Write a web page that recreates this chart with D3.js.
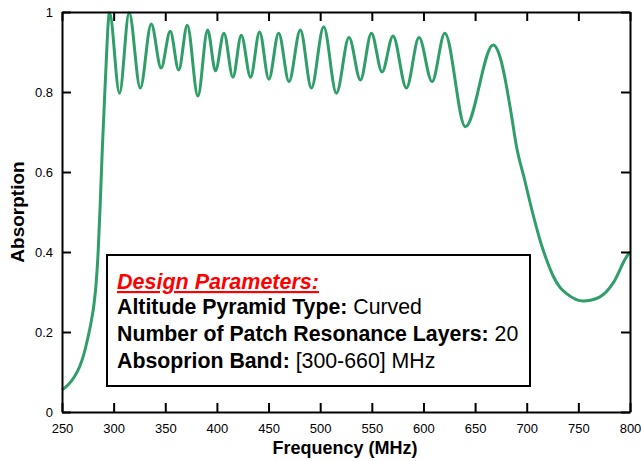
<!DOCTYPE html>
<html>
<head>
<meta charset="utf-8">
<script src="https://cdn.jsdelivr.net/npm/d3@7"></script>
<style>
  html, body { margin: 0; padding: 0; background: #fff; }
  svg { display: block; font-family: "Liberation Sans", Arial, Helvetica, sans-serif; }
</style>
</head>
<body>
<svg id="chart" width="641" height="461"></svg>
<script>
// ---- Data ----
const frequency = [250, 256, 262, 267, 271, 275, 278, 281, 283, 285, 287, 289, 292, 296,
  305.7, 315, 325.8, 336.4, 346, 354.8, 363, 371.3, 381.6, 391, 398.6,
  406.8, 415.5, 423.6, 432.6, 441.3, 450.3, 459.8, 469.8, 480.8, 491.5,
  503.4, 515.7, 527.9, 539, 549.6, 559.9, 570.5, 583.5, 595.7, 608.3,
  620.7, 640.6, 667.5, 675, 680, 685, 690, 698, 706, 714, 720, 725.6, 732, 738.6,
  754.7, 770.9, 783.6, 796.6, 800];
const absorption = [0.055, 0.068, 0.088, 0.113, 0.143, 0.185, 0.222, 0.27, 0.32, 0.40, 0.52, 0.655, 0.83, 0.998,
  0.797, 0.998, 0.81, 0.97, 0.86, 0.952, 0.855, 0.967, 0.79, 0.955, 0.853,
  0.947, 0.837, 0.942, 0.837, 0.95, 0.832, 0.947, 0.826, 0.955, 0.81,
  0.963, 0.797, 0.936, 0.83, 0.947, 0.85, 0.94, 0.81, 0.936, 0.826,
  0.947, 0.713, 0.9175, 0.88, 0.82, 0.745, 0.665, 0.58, 0.495, 0.42, 0.375, 0.34, 0.312, 0.296,
  0.2775, 0.288, 0.322, 0.388, 0.40];
const xTicks = [250, 300, 350, 400, 450, 500, 550, 600, 650, 700, 750, 800];
const yTicks = [0, 0.2, 0.4, 0.6, 0.8, 1];
const yTickLabels = ["0", "0.2", "0.4", "0.6", "0.8", "1"];
const xTitle = "Frequency (MHz)";
const yTitle = "Absorption";
const legendTitle = "Design Parameters:";
const legendLines = [
  ["Altitude Pyramid Type:", " Curved"],
  ["Number of Patch Resonance Layers:", " 20"],
  ["Absoprion Band:", " [300-660] MHz"]
];

// ---- Layout ----
const svg = d3.select("#chart");
const m = { left: 62, right: 630, top: 12, bottom: 412 };
const x = d3.scaleLinear().domain([250, 800]).range([m.left, m.right]);
const y = d3.scaleLinear().domain([0, 1]).range([m.bottom, m.top]);
const tickLen = 9;

svg.append("rect").attr("width", 641).attr("height", 461).attr("fill", "#fff");

// Curve
const pts = frequency.map((f, i) => [f, absorption[i]]);
const line = d3.line().x(d => x(d[0])).y(d => y(d[1])).curve(d3.curveMonotoneX);
svg.append("path").datum(pts)
  .attr("d", line)
  .attr("fill", "none")
  .attr("stroke", "#2f9e69")
  .attr("stroke-width", 3)
  .attr("stroke-linejoin", "round");

// Axes (inward ticks, mirrored)
const axB = d3.axisBottom(x).tickValues(xTicks).tickSize(-tickLen).tickPadding(12).tickSizeOuter(0);
const axT = d3.axisTop(x).tickValues(xTicks).tickSize(-tickLen).tickFormat("").tickSizeOuter(0);
const axL = d3.axisLeft(y).tickValues(yTicks).tickSize(-tickLen).tickPadding(9)
  .tickFormat((d, i) => yTickLabels[i]).tickSizeOuter(0);
const axR = d3.axisRight(y).tickValues(yTicks).tickSize(-tickLen).tickFormat("").tickSizeOuter(0);

function style(g) {
  g.selectAll("path.domain").attr("stroke", "#000").attr("stroke-width", 2);
  g.selectAll(".tick line").attr("stroke", "#000").attr("stroke-width", 2);
  g.selectAll(".tick text").attr("fill", "#000").attr("font-size", 13)
    .attr("font-family", '"Liberation Sans", Arial, sans-serif');
}
svg.append("g").attr("transform", `translate(0,${m.bottom})`).call(axB).call(style);
svg.append("g").attr("transform", `translate(0,${m.top})`).call(axT).call(style);
svg.append("g").attr("transform", `translate(${m.left},0)`).call(axL).call(style);
svg.append("g").attr("transform", `translate(${m.right},0)`).call(axR).call(style);

// Axis titles
svg.append("text")
  .attr("x", 345).attr("y", 454)
  .attr("text-anchor", "middle").attr("font-weight", "bold").attr("font-size", 18)
  .text(xTitle);
svg.append("text")
  .attr("transform", `translate(24,212) rotate(-90)`)
  .attr("text-anchor", "middle").attr("font-weight", "bold").attr("font-size", 19)
  .text(yTitle);

// Legend box
const lg = svg.append("g");
lg.append("rect").attr("x", 107).attr("y", 255).attr("width", 423).attr("height", 131)
  .attr("fill", "#fff").attr("stroke", "#000").attr("stroke-width", 2);
lg.append("text").attr("x", 117).attr("y", 289)
  .attr("font-size", 21.5).attr("font-weight", "bold").attr("font-style", "italic")
  .attr("fill", "#ff0000").attr("text-decoration", "underline")
  .text(legendTitle);
legendLines.forEach((ln, i) => {
  const t = lg.append("text").attr("x", 117).attr("y", 314 + i * 27)
    .attr("font-size", 21.3).attr("fill", "#000");
  t.append("tspan").attr("font-weight", "bold").text(ln[0]);
  t.append("tspan").text(ln[1]);
});
</script>
</body>
</html>
